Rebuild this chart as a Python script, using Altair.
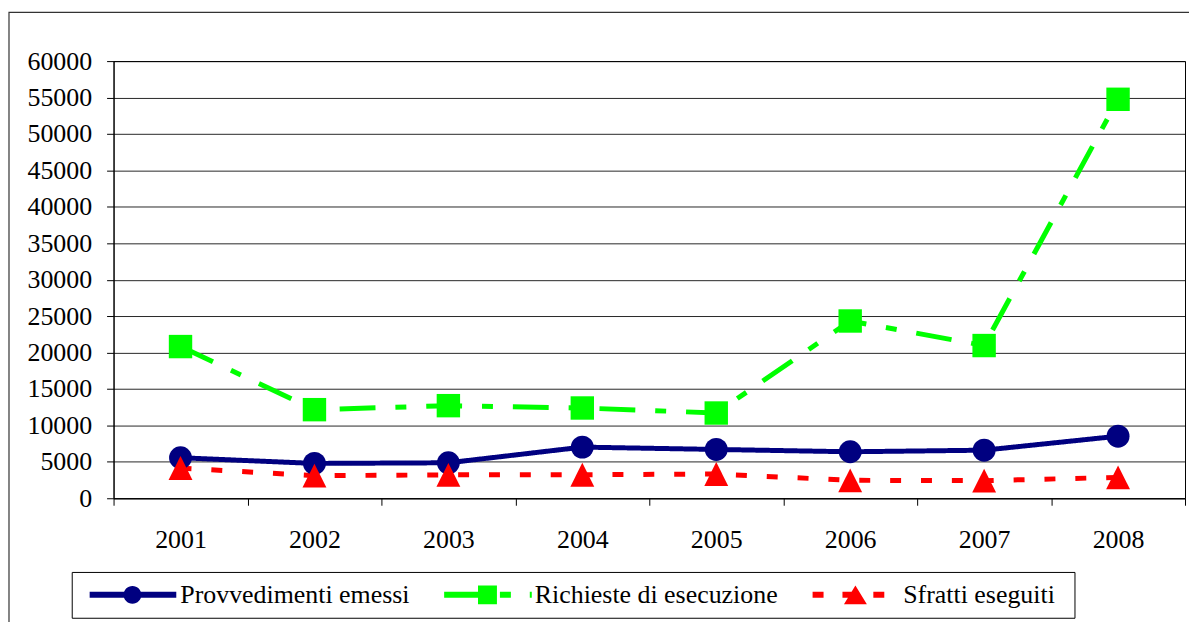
import altair as alt
import pandas as pd

# ---------------- data ----------------
years = ["2001", "2002", "2003", "2004", "2005", "2006", "2007", "2008"]
series_names = ["Provvedimenti emessi", "Richieste di esecuzione", "Sfratti eseguiti"]
provvedimenti = [5560, 4780, 4870, 7020, 6700, 6380, 6600, 8520]
richieste = [20820, 12160, 12710, 12390, 11700, 24330, 20960, 54760]
sfratti = [4150, 3100, 3210, 3230, 3330, 2460, 2420, 2870]
y_ticks = list(range(0, 60001, 5000))

# ---------------- styles ----------------
colors = ["#000080", "#00FF00", "#FF0000"]
dashes = [[1, 0], [36, 20, 11, 20], [11, 20]]
marker_shapes = ["circle", "square", "M0,-1L1,1L-1,1Z"]
marker_sizes = [529, 576, 576]
FONT = "Liberation Serif"

rows = []
for name, vals in zip(series_names, [provvedimenti, richieste, sfratti]):
    for y, v in zip(years, vals):
        rows.append({"year": y, "series": name, "value": v})
df = pd.DataFrame(rows)

# ---------------- legend symbol shapes (line + marker) ----------------
S = 10.0   # px per path unit for symbolSize 400
C = 13.0   # symbol centre inside a legend entry


def ux(px):
    return round((px - C) / S, 3)


def uy(px):
    return round(px / S, 3)


def bar(x0, x1, t=6):
    return (f"M{ux(x0)},{uy(-t / 2)}L{ux(x1)},{uy(-t / 2)}"
            f"L{ux(x1)},{uy(t / 2)}L{ux(x0)},{uy(t / 2)}Z")


def disc(cx, r):
    a, b, rr = ux(cx - r), ux(cx + r), uy(r)
    return f"M{a},0A{rr},{rr} 0 1,1 {b},0A{rr},{rr} 0 1,1 {a},0Z"


def tri(cx, w, h):
    return (f"M{ux(cx)},{uy(-h / 2)}L{ux(cx + w / 2)},{uy(h / 2)}"
            f"L{ux(cx - w / 2)},{uy(h / 2)}Z")


lead = f"M{ux(-8)},0"
legend_paths = [
    lead + bar(0, 87) + disc(43, 9),
    lead + bar(0, 34) + bar(34, 53, 19) + bar(56, 67) + bar(86, 88),
    lead + bar(0, 11) + bar(30, 41) + tri(43, 23, 19) + bar(61, 72) + f"M{ux(253)},0",
]

# ---------------- encodings ----------------
x_enc = alt.X(
    "year:N",
    bandPosition=0.5,
    sort=years,
    scale=alt.Scale(type="band", paddingInner=0, paddingOuter=0),
    axis=alt.Axis(title=None, labelAngle=0, tickBand="extent", grid=False,
                  labelPadding=21, tickSize=7),
)
y_enc = alt.Y(
    "value:Q",
    scale=alt.Scale(domain=[0, 60000], nice=False),
    axis=alt.Axis(title=None, values=y_ticks, format="d", grid=True,
                  labelPadding=15, tickSize=7),
)
color_scale = alt.Scale(domain=series_names, range=colors)

lines = alt.Chart(df).mark_line(strokeWidth=5, strokeJoin="round").encode(
    x=x_enc,
    y=y_enc,
    color=alt.Color("series:N", scale=color_scale, legend=None),
    strokeDash=alt.StrokeDash("series:N", scale=alt.Scale(domain=series_names, range=dashes), legend=None),
    detail="series:N",
)

points = alt.Chart(df).mark_point(filled=True, opacity=1, strokeWidth=0).encode(
    x=x_enc,
    y=y_enc,
    color=alt.Color("series:N", scale=color_scale, legend=None),
    shape=alt.Shape("series:N", scale=alt.Scale(domain=series_names, range=marker_shapes), legend=None),
    size=alt.Size("series:N", scale=alt.Scale(domain=series_names, range=marker_sizes), legend=None),
)

leg = alt.Legend(
    title=None, orient="none", legendX=-42, legendY=513, direction="horizontal",
    padding=10, columnPadding=26, symbolOffset=8, labelOffset=65, symbolSize=400,
    symbolStrokeWidth=0, strokeColor="black", fillColor="white",
    labelFont=FONT, labelFontSize=26, labelColor="black", labelLimit=0,
)
legend_layer = alt.Chart(pd.DataFrame({"series": series_names})).transform_filter(
    "false"
).mark_point(filled=True, opacity=1, size=400).encode(
    color=alt.Color("series:N", scale=color_scale, legend=leg),
    shape=alt.Shape("series:N", scale=alt.Scale(domain=series_names, range=legend_paths), legend=leg),
)

frame = alt.Chart(pd.DataFrame({"k": [1]})).mark_rect(
    filled=False, color="#333333", strokeWidth=1.2
).encode(
    x=alt.value(-105), x2=alt.value(1300), y=alt.value(-49), y2=alt.value(800)
)

chart = alt.layer(frame, lines, points, legend_layer).resolve_scale(
    color="independent", shape="independent", size="independent", strokeDash="independent"
).properties(
    width=1076, height=439,
    autosize=alt.AutoSizeParams(type="none"),
    padding={"left": 106, "top": 52, "right": 4, "bottom": 140},
).configure_view(
    stroke="black", strokeWidth=1
).configure_axis(
    labelFont=FONT, labelFontSize=26, labelColor="black",
    domainColor="black", domainWidth=1, tickColor="black", tickWidth=1,
    gridColor="black", gridWidth=1, gridOpacity=0.85,
)

chart.save("out.html", embed_options={"renderer": "svg", "actions": False})
